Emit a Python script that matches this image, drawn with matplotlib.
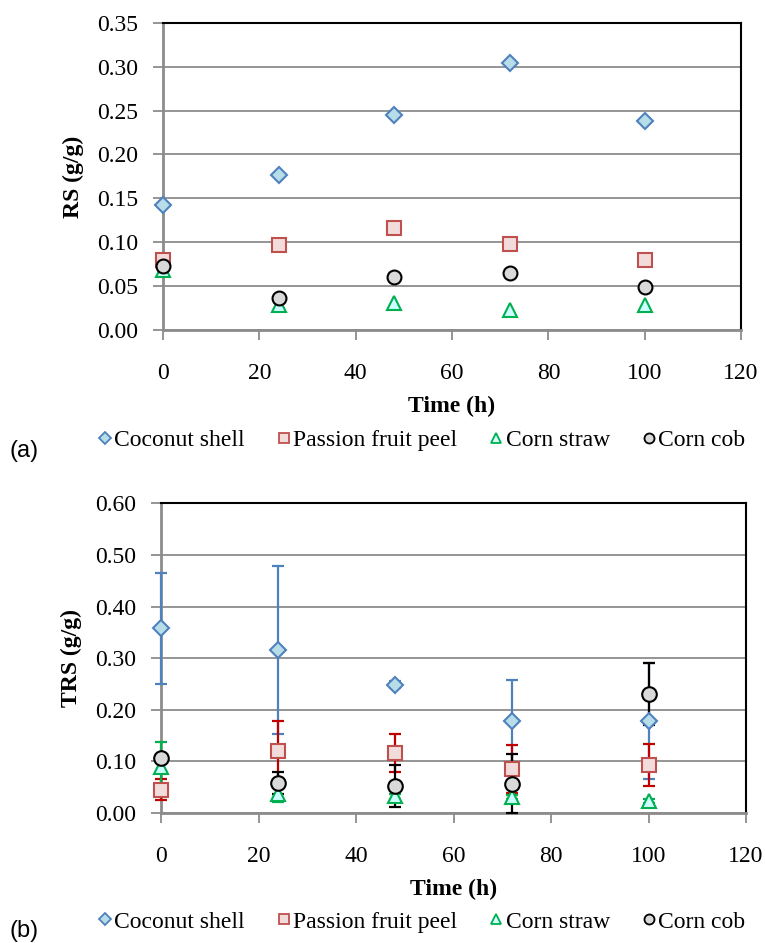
import matplotlib.pyplot as plt
from matplotlib.lines import Line2D

time_h = [0, 24, 48, 72, 100]
series = ['Coconut shell', 'Passion fruit peel', 'Corn straw', 'Corn cob']

# (a) reducing sugars
rs_coconut = [0.142, 0.177, 0.245, 0.304, 0.238]
rs_passion = [0.080, 0.097, 0.116, 0.098, 0.080]
rs_straw = [0.068, 0.029, 0.031, 0.023, 0.028]
rs_cob = [0.073, 0.037, 0.060, 0.065, 0.049]

# (b) total reducing sugars with error bars
trs_coconut = [0.358, 0.316, 0.249, 0.178, 0.178]
trs_coconut_err = [0.108, 0.163, 0.007, 0.080, 0.112]
trs_passion = [0.045, 0.120, 0.117, 0.085, 0.093]
trs_passion_err = [0.020, 0.058, 0.037, 0.046, 0.040]
trs_straw = [0.089, 0.036, 0.032, 0.031, 0.023]
trs_straw_err = [0.048, 0.015, 0.004, 0.004, 0.004]
trs_cob = [0.106, 0.058, 0.052, 0.057, 0.230]
trs_cob_err = [0.004, 0.022, 0.041, 0.057, 0.060]

styles = [
    dict(marker='D', mfc='#B7DDE8', mec='#4F81BD', ms=8, ecolor='#4F81BD'),
    dict(marker='s', mfc='#F2DCDB', mec='#C0504D', ms=9.5, ecolor='#C00000'),
    dict(marker='^', mfc='#CCFFFF', mec='#00B050', ms=10, ecolor='#00B050'),
    dict(marker='o', mfc='#D9D9D9', mec='#000000', ms=10, ecolor='#000000'),
]

plt.rcParams['font.family'] = 'Liberation Serif'
grey = '#8C8C8C'

fig = plt.figure(figsize=(7.65, 9.43), dpi=100)
ax1 = fig.add_axes([0.2131, 0.650, 0.7556, 0.3259])
ax2 = fig.add_axes([0.2105, 0.1379, 0.7647, 0.3282])


def style_axes(ax, ymax, ystep, ylabel):
    ax.set_xlim(0, 120)
    ax.set_ylim(0, ymax)
    ax.set_xticks(range(0, 121, 20))
    ax.set_yticks([i * ystep for i in range(int(round(ymax / ystep)) + 1)])
    ax.yaxis.set_major_formatter(plt.FormatStrFormatter('%.2f'))
    ax.grid(axis='y', color=grey, lw=1.3)
    ax.set_axisbelow(True)
    for s in ['left', 'bottom']:
        ax.spines[s].set_color(grey)
        ax.spines[s].set_linewidth(2)
    for s in ['top', 'right']:
        ax.spines[s].set_color('black')
        ax.spines[s].set_linewidth(1.5)
    ax.tick_params(axis='y', direction='out', length=7, color=grey, width=1.3,
                   labelsize=17, pad=11)
    ax.tick_params(axis='x', direction='out', length=7, color=grey, width=1.3,
                   labelsize=17, pad=17)
    ax.set_xlabel('Time (h)', fontsize=17, fontweight='bold', labelpad=8)
    ax.set_ylabel(ylabel, fontsize=17, fontweight='bold', labelpad=9)


style_axes(ax1, 0.35, 0.05, 'RS (g/g)')
style_axes(ax2, 0.60, 0.10, 'TRS (g/g)')

for y, st in zip([rs_coconut, rs_passion, rs_straw, rs_cob], styles):
    ax1.plot(time_h, y, ls='none', marker=st['marker'], mfc=st['mfc'],
             mec=st['mec'], ms=st['ms'], mew=1.5, clip_on=False, zorder=3)

trs = [trs_coconut, trs_passion, trs_straw, trs_cob]
trs_err = [trs_coconut_err, trs_passion_err, trs_straw_err, trs_cob_err]
for y, e, st in zip(trs, trs_err, styles):
    eb = ax2.errorbar(time_h, y, yerr=e, fmt='none', ecolor=st['ecolor'],
                      elinewidth=1.6, capsize=4, capthick=1.6, zorder=3)
    for art in eb.lines[1] + eb.lines[2]:
        art.set_clip_on(False)
    ax2.plot(time_h, y, ls='none', marker=st['marker'], mfc=st['mfc'],
             mec=st['mec'], ms=st['ms'] + 0.5, mew=1.5, clip_on=False, zorder=4)

handles = [Line2D([], [], ls='none', marker=st['marker'], mfc=st['mfc'],
                  mec=st['mec'], ms=st['ms'] * 0.72, mew=1.3) for st in styles]

for ycen in [0.5334, 0.0223]:
    fig.legend(handles, series, loc='center', bbox_to_anchor=(0.552, ycen),
               ncol=4, frameon=False, fontsize=17, handlelength=0.5,
               handletextpad=0.15, columnspacing=1.4, borderaxespad=0)

fig.text(0.013, 0.522, '(a)', family='Liberation Sans', fontsize=17, va='center')
fig.text(0.013, 0.013, '(b)', family='Liberation Sans', fontsize=17, va='center')

fig.savefig('out.png', dpi=100)
